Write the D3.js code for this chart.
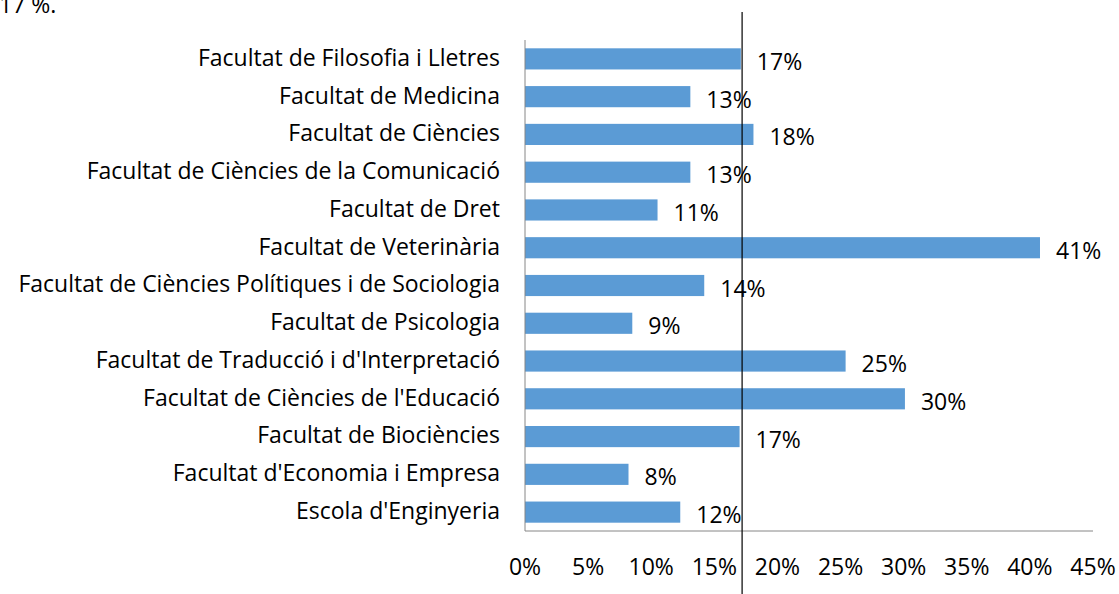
<!DOCTYPE html>
<html>
<head>
<meta charset="utf-8">
<script src="https://cdn.jsdelivr.net/npm/d3@7"></script>
<style>
  body { margin: 0; background: #fff; }
  text { font-family: "Open Sans", sans-serif; fill: #000; }
</style>
</head>
<body>
<div id="chart"></div>
<script>
// Categories (top to bottom) and their percentages
const faculties = [
  "Facultat de Filosofia i Lletres",
  "Facultat de Medicina",
  "Facultat de Ciències",
  "Facultat de Ciències de la Comunicació",
  "Facultat de Dret",
  "Facultat de Veterinària",
  "Facultat de Ciències Polítiques i de Sociologia",
  "Facultat de Psicologia",
  "Facultat de Traducció i d'Interpretació",
  "Facultat de Ciències de l'Educació",
  "Facultat de Biociències",
  "Facultat d'Economia i Empresa",
  "Escola d'Enginyeria"
];
const values = [17.1, 13.1, 18.1, 13.1, 10.5, 40.8, 14.2, 8.5, 25.4, 30.1, 17.0, 8.2, 12.3];
const labels = ["17%", "13%", "18%", "13%", "11%", "41%", "14%", "9%", "25%", "30%", "17%", "8%", "12%"];
const xTicks = [0, 5, 10, 15, 20, 25, 30, 35, 40, 45];
const averageLine = 17.2;
const headerText = "17 %.";

const width = 1119, height = 594;
const x0 = 525, x1 = 1093, yTop = 40, yBottom = 531;
const fontSize = "23px";

const svg = d3.select("#chart").append("svg")
    .attr("width", width)
    .attr("height", height);

const x = d3.scaleLinear().domain([0, 45]).range([x0, x1]);
const y = d3.scaleBand().domain(faculties).range([yTop, yBottom]).paddingInner(0.44).paddingOuter(0.22);

// text cut off at the very top (as in the source picture)
svg.append("text")
   .attr("x", -1)
   .attr("y", 13)
   .style("font-size", fontSize)
   .text(headerText);

// bars
svg.selectAll("rect.bar")
   .data(values)
   .join("rect")
   .attr("class", "bar")
   .attr("x", x(0))
   .attr("y", (d, i) => y(faculties[i]))
   .attr("width", d => x(d) - x(0))
   .attr("height", y.bandwidth())
   .attr("fill", "#5b9bd5");

// axes
svg.append("line")
   .attr("x1", x(0)).attr("x2", x(0))
   .attr("y1", yTop).attr("y2", yBottom)
   .attr("stroke", "#868686");
svg.append("line")
   .attr("x1", x(0)).attr("x2", x(45))
   .attr("y1", yBottom).attr("y2", yBottom)
   .attr("stroke", "#868686");

// category labels
svg.selectAll("text.cat")
   .data(faculties)
   .join("text")
   .attr("class", "cat")
   .attr("x", 500)
   .attr("y", d => y(d) + y.bandwidth() / 2)
   .attr("dy", "0.3em")
   .attr("text-anchor", "end")
   .style("font-size", fontSize)
   .text(d => d);

// data labels
svg.selectAll("text.val")
   .data(values)
   .join("text")
   .attr("class", "val")
   .attr("x", d => x(d) + 16)
   .attr("y", (d, i) => y(faculties[i]) + y.bandwidth() / 2 + 3)
   .attr("dy", "0.35em")
   .style("font-size", fontSize)
   .text((d, i) => labels[i]);

// x tick labels
svg.selectAll("text.tick")
   .data(xTicks)
   .join("text")
   .attr("class", "tick")
   .attr("x", d => x(d))
   .attr("y", 575)
   .attr("text-anchor", "middle")
   .style("font-size", fontSize)
   .text(d => d + "%");

// vertical reference line
svg.append("line")
   .attr("x1", x(averageLine)).attr("x2", x(averageLine))
   .attr("y1", 12).attr("y2", height)
   .attr("stroke", "#000")
   .attr("stroke-width", 1.2);
</script>
</body>
</html>
